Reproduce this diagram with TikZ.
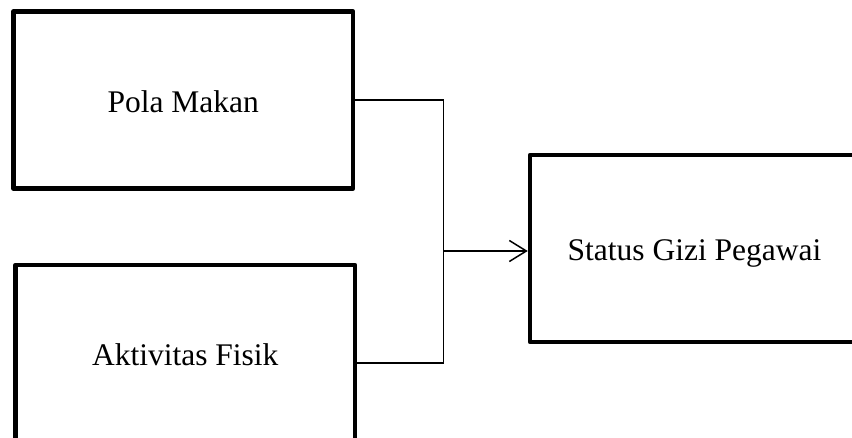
\documentclass[tikz,border=0pt]{standalone}
\usepackage{fontspec}
\setmainfont{Liberation Serif}
\usetikzlibrary{arrows.meta}
\begin{document}
\begin{tikzpicture}[x=1pt,y=1pt,
  box/.style={draw=black, line width=4.5pt, line join=round, rectangle, inner sep=0pt,
    text height=25pt, text depth=0pt, font=\fontsize{31.5}{38}\selectfont},
  conn/.style={draw=black, line width=1.5pt},
  arr/.style={conn, -{Straight Barb[length=17pt,width=21pt,line width=1.5pt]}}]
\useasboundingbox (0,0) rectangle (852,437);
\clip (0,0) rectangle (852,437);
\node[box, minimum width=339.5pt, minimum height=177pt] (b1) at (183.25,337) {Pola Makan};
\node[box, minimum width=339.5pt, minimum height=175pt] (b2) at (185.25,84.5) {Aktivitas Fisik};
\node[box, minimum width=329pt, minimum height=187pt] (b3) at (694.5,188.5) {Status Gizi Pegawai};
\coordinate (j1) at (443.5,337);
\coordinate (j2) at (443.5,74);
\coordinate (j3) at (443.5,186);
\draw[conn] (b1.east) -- (j1) -- (j2) -- (j2 -| b2.east);
\draw[arr] (j3) -- (j3 -| b3.west);
\end{tikzpicture}
\end{document}
